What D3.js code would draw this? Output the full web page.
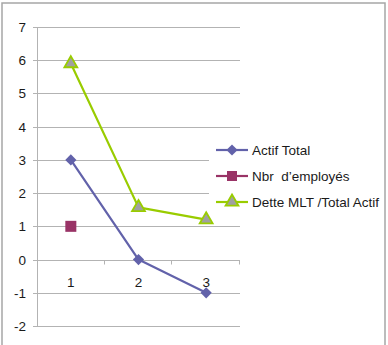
<!DOCTYPE html>
<html><head><meta charset="utf-8">
<script src="https://cdn.jsdelivr.net/npm/d3@7"></script>
<style>body{margin:0;background:#fff}svg{display:block}</style>
</head><body>
<script>
const categories = ["1","2","3"];
const actifTotal = [3, 0, -1];
const nbrEmployes = [1, null, null];
const detteMLT = [5.9, 1.57, 1.2];
const yTicks = [-2,-1,0,1,2,3,4,5,6,7];
const seriesNames = ["Actif Total", "Nbr  d\u2019employés", "Dette MLT /Total Actif"];

const W = 388, H = 345;
const svg = d3.select("body").append("svg").attr("width", W).attr("height", H);
const font = "Liberation Sans, Arial, sans-serif";

svg.append("rect").attr("x", 2).attr("y", 3).attr("width", 383).attr("height", 350)
  .attr("fill", "#fff").attr("stroke", "#a6a6a6").attr("stroke-width", 1.5);

const L = 37, R = 240, T = 27, B = 326;
const x = d3.scaleBand().domain(categories).range([L, R]);
const y = d3.scaleLinear().domain([-2, 7]).range([B, T]);

const g = svg.append("g");
g.selectAll("line.grid").data(yTicks).join("line")
  .attr("x1", L - 4).attr("x2", R)
  .attr("y1", d => Math.round(y(d)) + 0.5).attr("y2", d => Math.round(y(d)) + 0.5)
  .attr("stroke", "#b3b3b3").attr("stroke-width", 1);
g.append("line").attr("x1", L + 0.5).attr("x2", L + 0.5).attr("y1", T).attr("y2", B + 0.5)
  .attr("stroke", "#b3b3b3");
g.selectAll("text.yl").data(yTicks).join("text")
  .attr("x", 26).attr("y", d => y(d) + 5).attr("text-anchor", "end")
  .attr("font-family", font).attr("font-size", 13.5).attr("fill", "#1a1a1a")
  .text(d => d);
const y0 = Math.round(y(0)) + 0.5;
const bounds = categories.map(c => x(c) + x.bandwidth());
g.selectAll("line.ct").data(bounds).join("line")
  .attr("x1", d => Math.round(d) - 0.5).attr("x2", d => Math.round(d) - 0.5)
  .attr("y1", y0).attr("y2", y0 + 4).attr("stroke", "#b3b3b3");
g.selectAll("text.cl").data(categories).join("text")
  .attr("x", d => x(d) + x.bandwidth() / 2).attr("y", 287).attr("text-anchor", "middle")
  .attr("font-family", font).attr("font-size", 13.5).attr("fill", "#1a1a1a")
  .text(d => d);

const cx = (d, i) => x(categories[i]) + x.bandwidth() / 2;
const colors = ["#6262aa", "#993366", "#99cc00"];

function line(data, color) {
  const ln = d3.line().defined(d => d != null).x((d, i) => cx(d, i)).y(d => y(d));
  g.append("path").datum(data).attr("d", ln).attr("fill", "none")
    .attr("stroke", color).attr("stroke-width", 2.2).attr("stroke-linejoin", "round");
}
const diamond = d3.symbol().type(d3.symbolDiamond2).size(80);
const tri = d3.symbol().type(d3.symbolTriangle).size(72);

line(actifTotal, colors[0]);
line(detteMLT, colors[2]);

g.selectAll("path.dm").data(actifTotal).join("path")
  .attr("transform", (d, i) => `translate(${cx(d, i)},${y(d)})`)
  .attr("d", diamond).attr("fill", colors[0]);
g.selectAll("rect.sq").data(nbrEmployes.filter(d => d != null)).join("rect")
  .attr("x", (d, i) => cx(d, i) - 5.5).attr("y", d => y(d) - 5.5)
  .attr("width", 11).attr("height", 11).attr("fill", colors[1]);
g.selectAll("path.tr").data(detteMLT).join("path")
  .attr("transform", (d, i) => `translate(${cx(d, i)},${y(d)})`)
  .attr("d", tri).attr("fill", "#a0a0a0").attr("stroke", colors[2]).attr("stroke-width", 1.8);

const lg = svg.append("g");
lg.append("rect").attr("x", 209).attr("y", 136).attr("width", 175).attr("height", 78).attr("fill", "#fff");
const rows = [150, 176, 202];
rows.forEach((ry, i) => {
  lg.append("line").attr("x1", 216).attr("x2", 248).attr("y1", ry).attr("y2", ry)
    .attr("stroke", colors[i]).attr("stroke-width", 2.2);
  if (i === 0) lg.append("path").attr("transform", `translate(232,${ry})`).attr("d", diamond).attr("fill", colors[0]);
  if (i === 1) lg.append("rect").attr("x", 227).attr("y", ry - 5).attr("width", 10).attr("height", 10).attr("fill", colors[1]);
  if (i === 2) lg.append("path").attr("transform", `translate(232,${ry})`).attr("d", tri)
    .attr("fill", "#a0a0a0").attr("stroke", colors[2]).attr("stroke-width", 1.8);
  lg.append("text").attr("x", 252).attr("y", ry + 5)
    .attr("font-family", font).attr("font-size", 13.5).attr("fill", "#1a1a1a")
    .style("white-space", "pre").text(seriesNames[i]);
});
</script>
</body></html>
